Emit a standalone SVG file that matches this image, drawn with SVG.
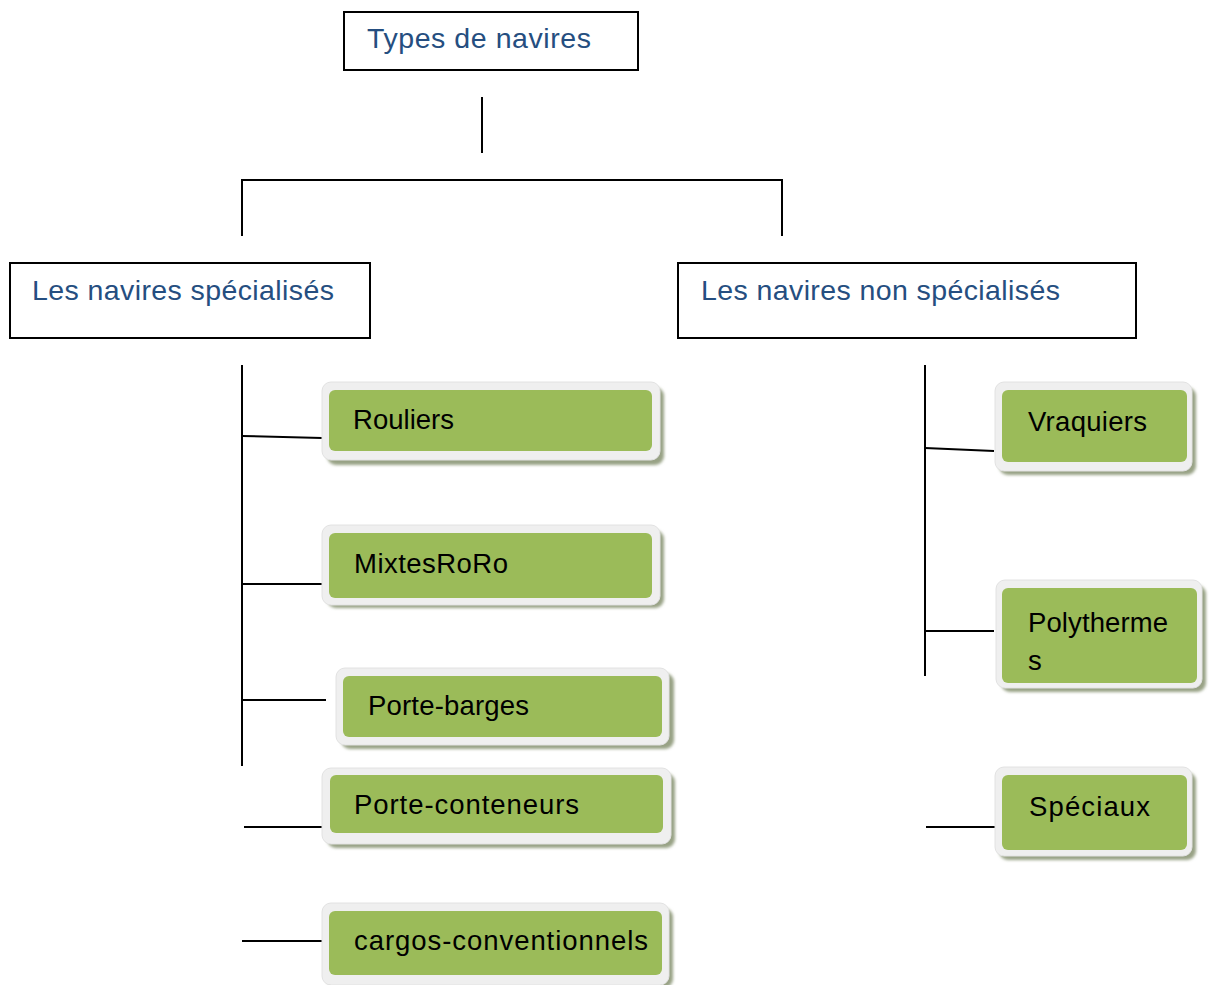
<svg xmlns="http://www.w3.org/2000/svg" width="1212" height="985" viewBox="0 0 1212 985">
<defs>
<filter id="blur" x="-10%" y="-10%" width="120%" height="130%"><feGaussianBlur stdDeviation="1.5"/></filter>
</defs>
<style>
.hdr{fill:#fff;stroke:#000;stroke-width:2}
.ht{font-family:"Liberation Sans",Arial,sans-serif;font-size:28.5px;fill:#254E80}
.sh{fill:#98A285;filter:url(#blur)}
.out{fill:#EFEFEF;stroke:#E2E2E2;stroke-width:1}
.grn{fill:#9BBB59}
.gt{font-family:"Liberation Sans",Arial,sans-serif;font-size:27.5px;fill:#000}
.ln{stroke:#000;stroke-width:2;fill:none}
</style>
<rect width="1212" height="985" fill="#fff"/>
<g id="connectors">
<line class="ln" x1="482" y1="97" x2="482" y2="153"/>
<polyline class="ln" points="242,236 242,180 782,180 782,236"/>
<line class="ln" x1="242" y1="365" x2="242" y2="766"/>
<line class="ln" x1="242" y1="436" x2="322" y2="438"/>
<line class="ln" x1="242" y1="584" x2="322" y2="584"/>
<line class="ln" x1="242" y1="700" x2="326" y2="700"/>
<line class="ln" x1="244" y1="827" x2="322" y2="827"/>
<line class="ln" x1="242" y1="941" x2="322" y2="941"/>
<line class="ln" x1="925" y1="365" x2="925" y2="676"/>
<line class="ln" x1="925" y1="448" x2="994" y2="451"/>
<line class="ln" x1="925" y1="631" x2="994" y2="631"/>
<line class="ln" x1="926" y1="827" x2="996" y2="827"/>
</g>
<g id="types">
<rect class="hdr" x="344" y="12" width="294" height="58"/>
<text class="ht" x="367" y="48" textLength="224" lengthAdjust="spacing">Types de navires</text>
</g>
<g id="specialises">
<rect class="hdr" x="10" y="263" width="360" height="75"/>
<text class="ht" x="32" y="300" textLength="302" lengthAdjust="spacing">Les navires spécialisés</text>
</g>
<g id="non-specialises">
<rect class="hdr" x="678" y="263" width="458" height="75"/>
<text class="ht" x="701" y="300" textLength="359" lengthAdjust="spacing">Les navires non spécialisés</text>
</g>
<g id="rouliers">
<rect class="sh" x="327" y="387" width="337" height="78" rx="9"/>
<rect class="out" x="322" y="382" width="338" height="78" rx="9"/>
<rect class="grn" x="329" y="390" width="323" height="61" rx="6"/>
<text class="gt" x="353" y="429" textLength="101" lengthAdjust="spacing">Rouliers</text>
</g>
<g id="mixtes">
<rect class="sh" x="327" y="530" width="337" height="78" rx="9"/>
<rect class="out" x="322" y="525" width="338" height="80" rx="9"/>
<rect class="grn" x="329" y="533" width="323" height="65" rx="6"/>
<text class="gt" x="354" y="573" textLength="154" lengthAdjust="spacing">MixtesRoRo</text>
</g>
<g id="porte-barges">
<rect class="sh" x="341" y="673" width="333" height="76" rx="9"/>
<rect class="out" x="336" y="668" width="333" height="77" rx="9"/>
<rect class="grn" x="343" y="676" width="319" height="61" rx="6"/>
<text class="gt" x="368" y="715" textLength="161" lengthAdjust="spacing">Porte-barges</text>
</g>
<g id="porte-conteneurs">
<rect class="sh" x="327" y="773" width="348" height="75" rx="9"/>
<rect class="out" x="322" y="768" width="349" height="76" rx="9"/>
<rect class="grn" x="330" y="775" width="333" height="58" rx="6"/>
<text class="gt" x="354" y="814" textLength="225" lengthAdjust="spacing">Porte-conteneurs</text>
</g>
<g id="cargos">
<rect class="sh" x="327" y="908" width="346" height="80" rx="9"/>
<rect class="out" x="322" y="903" width="347" height="82" rx="9"/>
<rect class="grn" x="329" y="911" width="333" height="64" rx="6"/>
<text class="gt" x="354" y="950" textLength="294" lengthAdjust="spacing">cargos-conventionnels</text>
</g>
<g id="vraquiers">
<rect class="sh" x="999" y="387" width="197" height="88" rx="9"/>
<rect class="out" x="995" y="382" width="197" height="89" rx="9"/>
<rect class="grn" x="1002" y="390" width="185" height="72" rx="6"/>
<text class="gt" x="1028" y="431" textLength="119" lengthAdjust="spacing">Vraquiers</text>
</g>
<g id="polythermes">
<rect class="sh" x="1001" y="585" width="205" height="107" rx="9"/>
<rect class="out" x="996" y="580" width="206" height="108" rx="9"/>
<rect class="grn" x="1002" y="588" width="195" height="95" rx="6"/>
<text class="gt" x="1028" y="632" textLength="140" lengthAdjust="spacing">Polytherme</text>
<text class="gt" x="1028" y="670">s</text>
</g>
<g id="speciaux">
<rect class="sh" x="999" y="772" width="197" height="88" rx="9"/>
<rect class="out" x="995" y="767" width="197" height="89" rx="9"/>
<rect class="grn" x="1002" y="775" width="185" height="75" rx="6"/>
<text class="gt" x="1029" y="816" textLength="121" lengthAdjust="spacing">Spéciaux</text>
</g>
</svg>
